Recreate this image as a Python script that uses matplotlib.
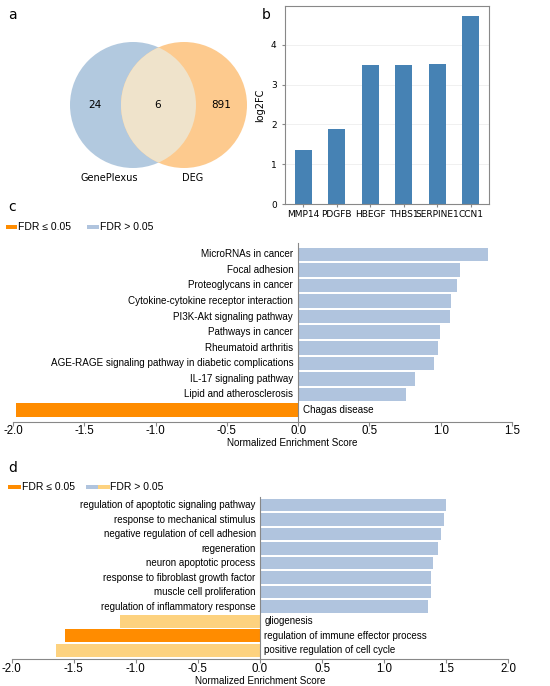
import numpy as np
import matplotlib
matplotlib.use("Agg")
import matplotlib.pyplot as plt
from matplotlib.patches import Circle, Rectangle

# venn counts
venn_labels = ["GenePlexus", "DEG"]
venn_counts = [24, 6, 891]  # only left, both, only right

# panel b
genes = ["MMP14", "PDGFB", "HBEGF", "THBS1", "SERPINE1", "CCN1"]
log2fc = [1.37, 1.88, 3.49, 3.49, 3.53, 4.74]

# panel c - KEGG
kegg_terms = ["MicroRNAs in cancer", "Focal adhesion", "Proteoglycans in cancer",
              "Cytokine-cytokine receptor interaction", "PI3K-Akt signaling pathway",
              "Pathways in cancer", "Rheumatoid arthritis",
              "AGE-RAGE signaling pathway in diabetic complications",
              "IL-17 signaling pathway", "Lipid and atherosclerosis", "Chagas disease"]
kegg_nes = [1.33, 1.136, 1.117, 1.07, 1.066, 0.996, 0.982, 0.951, 0.818, 0.76, -1.98]
kegg_sig = [False] * 10 + [True]

# panel d - GO
go_terms = ["regulation of apoptotic signaling pathway", "response to mechanical stimulus",
            "negative regulation of cell adhesion", "regeneration",
            "neuron apoptotic process", "response to fibroblast growth factor",
            "muscle cell proliferation", "regulation of inflammatory response",
            "gliogenesis", "regulation of immune effector process",
            "positive regulation of cell cycle"]
go_nes = [1.495, 1.48, 1.46, 1.43, 1.39, 1.38, 1.375, 1.35, -1.127, -1.57, -1.645]
go_sig = [False] * 9 + [True, False]

ORANGE = "#ff8c00"
LBLUE = "#b0c4de"
LORANGE = "#fdd27f"
W, H = 550, 686

fig = plt.figure(figsize=(5.5, 6.86), dpi=100)


def px_axes(x0, y0, x1, y1):
    # pixel box (top-left origin) -> figure axes
    return fig.add_axes([x0 / W, 1 - y1 / H, (x1 - x0) / W, (y1 - y0) / H])


# ---- a: venn ----
axa = px_axes(0, 0, 260, 200)
axa.set_xlim(0, 260)
axa.set_ylim(200, 0)
axa.axis("off")
r = 63
cl, cr = (133, 105), (184, 105)
axa.add_patch(Circle(cl, r, fc="#b2c9df", ec="none"))
axa.add_patch(Circle(cr, r, fc="#fdca8e", ec="none"))
inter = Circle(cr, r, fc="#efe3cb", ec="none")
axa.add_patch(inter)
inter.set_clip_path(Circle(cl, r, transform=axa.transData))
axa.text(95, 105, str(venn_counts[0]), ha="center", va="center", fontsize=7.5)
axa.text(158, 105, str(venn_counts[1]), ha="center", va="center", fontsize=7.5)
axa.text(221, 105, str(venn_counts[2]), ha="center", va="center", fontsize=7.5)
axa.text(109, 178, venn_labels[0], ha="center", va="center", fontsize=7)
axa.text(193, 178, venn_labels[1], ha="center", va="center", fontsize=7)
fig.text(8 / W, 1 - 15 / H, "a", fontsize=10, va="center")

# ---- b: bars ----
axb = px_axes(285, 6, 489, 204)
axb.bar(np.arange(len(genes)), log2fc, width=0.5, color="#4682b4")
axb.set_xlim(-0.54, 5.54)
axb.set_ylim(0, 4.98)
axb.set_xticks(np.arange(len(genes)))
axb.set_xticklabels(genes, fontsize=6.5)
axb.set_yticks([0, 1, 2, 3, 4])
axb.tick_params(axis="y", labelsize=6.5, length=2.5, color="#888888")
axb.tick_params(axis="x", length=2.5, pad=1.5, color="#888888")
axb.yaxis.grid(True, color="#eeeeee", lw=0.6)
axb.set_axisbelow(True)
for s in axb.spines.values():
    s.set_color("#888888")
axb.set_ylabel("log2FC", fontsize=7, labelpad=4)
fig.text(262 / W, 1 - 15 / H, "b", fontsize=10, va="center")

# ---- c & d: enrichment bars ----
arial = "Liberation Sans"


def nes_panel(ax, terms, nes, colors, ylo, yhi, xlim, ticks, fs):
    y = np.arange(len(terms))[::-1]
    ax.barh(y, nes, height=0.87, color=colors)
    ax.set_ylim(ylo, len(terms) - 1 + yhi)
    ax.set_xlim(*xlim)
    for yy, t, v in zip(y, terms, nes):
        if v >= 0:
            ax.text(-0.035, yy, t, ha="right", va="center", fontsize=fs, family=arial)
        else:
            ax.text(0.035, yy, t, ha="left", va="center", fontsize=fs, family=arial)
    ax.set_yticks([])
    ax.spines["top"].set_visible(False)
    ax.spines["right"].set_visible(False)
    ax.spines["left"].set_position(("data", 0))
    ax.spines["left"].set_color("#888888")
    ax.spines["bottom"].set_color("#888888")
    ax.set_xticks(ticks)
    ax.set_xticklabels([f"{t:.1f}" for t in ticks], family=arial, fontsize=8.3)
    ax.tick_params(axis="x", length=3, pad=-0.5, color="#888888")
    ax.set_xlabel("Normalized Enrichment Score", family=arial, fontsize=7.1, labelpad=0)


axc = px_axes(13, 243, 512, 422)
c_colors = [ORANGE if s else LBLUE for s in kegg_sig]
nes_panel(axc, kegg_terms, kegg_nes, c_colors, -0.77, 0.73, (-2.0, 1.5),
          [-2.0, -1.5, -1.0, -0.5, 0.0, 0.5, 1.0, 1.5], 7.1)
axc.xaxis.set_label_coords(0.56, -0.092)
fig.text(8 / W, 1 - 207 / H, "c", fontsize=10, va="center")

axd = px_axes(11.7, 496.7, 508.3, 659.3)
d_colors = []
for t, v, s in zip(go_terms, go_nes, go_sig):
    if s:
        d_colors.append(ORANGE)
    elif v < 0:
        d_colors.append(LORANGE)
    else:
        d_colors.append(LBLUE)
nes_panel(axd, go_terms, go_nes, d_colors, -0.62, 0.57, (-2.0, 2.0),
          [-2.0, -1.5, -1.0, -0.5, 0.0, 0.5, 1.0, 1.5, 2.0], 7.0)
axd.xaxis.set_label_coords(0.5, -0.1)
fig.text(8 / W, 1 - 468 / H, "d", fontsize=10, va="center")


# legends drawn by hand
def fig_patch(x0, x1, yc, color, h=4):
    fig.patches.append(Rectangle((x0 / W, 1 - (yc + h / 2) / H), (x1 - x0) / W, h / H,
                                 transform=fig.transFigure, fc=color, ec="none"))


fig_patch(6, 17, 227, ORANGE)
fig.text(18 / W, 1 - 227 / H, "FDR ≤ 0.05", family=arial, fontsize=7.5, va="center")
fig_patch(87, 99, 227, LBLUE)
fig.text(100 / W, 1 - 227 / H, "FDR > 0.05", family=arial, fontsize=7.5, va="center")

fig_patch(8, 21, 487, ORANGE)
fig.text(22 / W, 1 - 487 / H, "FDR ≤ 0.05", family=arial, fontsize=7.5, va="center")
fig_patch(86, 98, 487, LBLUE)
fig_patch(98, 110, 487, LORANGE)
fig.text(110 / W, 1 - 487 / H, "FDR > 0.05", family=arial, fontsize=7.5, va="center")

fig.savefig("out.png", dpi=100)
